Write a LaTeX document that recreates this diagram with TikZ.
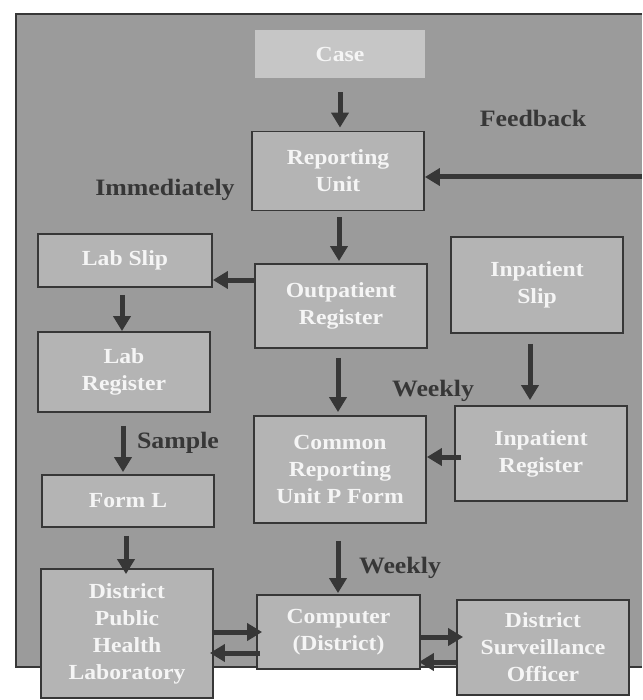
\documentclass[tikz,border=0pt]{standalone}
\usepackage{fontspec}
\setmainfont[FakeStretch=1.1]{Liberation Serif}
\usetikzlibrary{arrows.meta,calc}
\definecolor{bggrey}{RGB}{155,155,155}
\definecolor{boxgrey}{RGB}{180,180,180}
\definecolor{casegrey}{RGB}{198,198,198}
\definecolor{darkline}{RGB}{55,55,55}
\definecolor{boxtext}{RGB}{245,245,245}
\begin{document}
\begin{tikzpicture}[x=1pt,y=-1pt,
  box/.style={draw=darkline, line width=1.8pt, fill=boxgrey, text=boxtext,
    font=\fontsize{21.5}{27}\selectfont\bfseries, align=center, inner sep=0pt},
  casebox/.style={fill=casegrey, text=boxtext, font=\fontsize{21.5}{27}\selectfont\bfseries, inner sep=0pt},
  lbl/.style={text=darkline, font=\fontsize{23.5}{27}\selectfont\bfseries, inner sep=0pt},
  arr/.style={draw=darkline, line width=5pt, -{Triangle[length=15pt,width=17pt]}}]
\useasboundingbox (0,0) rectangle (642,700);
\fill[white] (0,0) rectangle (642,700);
% background panel
\fill[bggrey] (16,14) rectangle (642,667);
\draw[darkline, line width=2.5pt] (642,14) -- (16,14) -- (16,667) -- (642,667);
% nodes
\node[casebox, minimum width=170pt, minimum height=48pt] (case) at (340,54) {Case};
\node[box, minimum width=172pt, minimum height=79pt] (ru) at (338,171) {Reporting\\Unit};
\node[box, minimum width=174pt, minimum height=53pt] (labslip) at (125,260.5) {Lab Slip};
\node[box, minimum width=172pt, minimum height=84pt] (opreg) at (341,306) {Outpatient\\Register};
\node[box, minimum width=172pt, minimum height=96pt] (inslip) at (537,285) {Inpatient\\Slip};
\node[box, minimum width=172pt, minimum height=80pt] (labreg) at (124,372) {Lab\\Register};
\node[box, minimum width=172pt, minimum height=107pt] (common) at (340,469.5) {Common\\Reporting\\Unit P Form};
\node[box, minimum width=172pt, minimum height=95pt] (inreg) at (541,453.5) {Inpatient\\Register};
\node[box, minimum width=172pt, minimum height=52pt] (forml) at (128,501) {Form L};
\node[box, minimum width=172pt, minimum height=129pt] (dphl) at (127,633.5) {District\\Public\\Health\\Laboratory};
\node[box, minimum width=163pt, minimum height=74pt] (comp) at (338.5,632) {Computer\\(District)};
\node[box, minimum width=172pt, minimum height=95pt] (dso) at (543,647.5) {District\\Surveillance\\Officer};
% labels
\node[lbl] (lfeed) at (533,118) {Feedback};
\node[lbl] (limm) at (165,190) {Immediately};
\node[lbl] (lweek1) at (433,391) {Weekly};
\node[lbl] (lsample) at (178,443) {Sample};
\node[lbl] (lweek2) at (400,568) {Weekly};
% connectors
\coordinate (fb) at (642,177);
\draw[arr, shorten <=14pt, shorten >=3pt] (case.south) -- (case.south |- ru.north);
\draw[arr] (fb) -- (fb -| ru.east);
\draw[arr, shorten <=6pt, shorten >=2pt] ([xshift=1pt]ru.south) -- ([xshift=1pt]ru.south |- opreg.north);
\draw[arr] ([yshift=26pt]opreg.west) -- ([yshift=26pt]opreg.west -| labslip.east);
\draw[arr, shorten <=7pt] ([xshift=-3pt]labslip.south) -- ([xshift=-3pt]labslip.south |- labreg.north);
\draw[arr, shorten <=9pt, shorten >=3pt] ([xshift=-3pt]opreg.south) -- ([xshift=-3pt]opreg.south |- common.north);
\draw[arr, shorten <=10pt, shorten >=5pt] ([xshift=-7pt]inslip.south) -- ([xshift=-7pt]inslip.south |- inreg.north);
\draw[arr, shorten <=-7pt] ([yshift=-3.5pt]inreg.west) -- ([yshift=-3.5pt]inreg.west -| common.east);
\draw[arr, shorten <=13pt, shorten >=2pt] ([xshift=-1pt]labreg.south) -- ([xshift=-1pt]labreg.south |- forml.north);
\draw[arr, shorten <=8pt, shorten >=-6pt] ([xshift=-2pt]forml.south) -- ([xshift=-2pt]forml.south |- dphl.north);
\draw[arr, shorten <=17pt, shorten >=1pt] ([xshift=-2pt]common.south) -- ([xshift=-2pt]common.south |- comp.north);
\draw[arr, shorten >=-6pt] (dphl.east |- comp.center) -- (comp.west);
\draw[arr, shorten <=-4pt, shorten >=-4pt] ([yshift=-21pt]comp.west) -- ([yshift=-21pt]comp.west -| dphl.east);
\draw[arr, shorten >=-7pt] ([yshift=-5pt]comp.east) -- ([yshift=-5pt]comp.east -| dso.west);
\draw[arr, shorten >=-2pt] ([yshift=-30pt]dso.west |- comp.center) -- ([yshift=-30pt]comp.east);
\end{tikzpicture}
\end{document}
